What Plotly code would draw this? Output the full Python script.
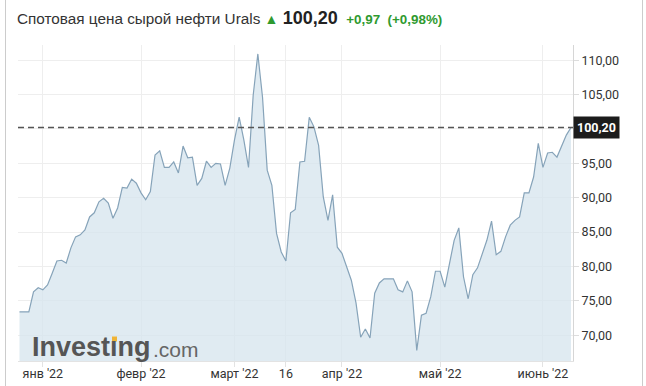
import pandas as pd
import plotly.graph_objects as go

# ---- data ----
dates = [d.strftime("%Y-%m-%d") for d in pd.bdate_range("2021-12-27", "2022-06-09")]
prices = [
    73.4, 73.4, 73.4, 76.3, 76.9, 76.6, 77.3, 79.0, 80.8, 80.9,
    80.5, 82.7, 84.3, 84.6, 85.3, 87.2, 87.8, 89.4, 89.9, 89.2,
    87.0, 88.5, 91.5, 91.4, 92.7, 92.1, 90.7, 89.7, 90.9, 96.2,
    96.8, 94.4, 94.4, 95.2, 93.6, 97.5, 95.8, 95.9, 91.8, 92.8,
    95.3, 94.4, 95.0,
    94.9, 91.8, 94.3, 98.4, 101.7, 98.4, 94.4, 104.9, 110.9, 104.6,
    94.0, 91.8, 84.8, 82.1, 80.8, 87.8, 88.3, 95.2, 95.3, 101.7,
    100.3, 97.6, 90.1, 86.7, 90.4, 82.8, 81.9, 79.9, 78.0, 74.7,
    69.7, 70.9, 69.6, 76.1, 77.6, 78.2, 78.2, 78.2, 76.6,
    76.3, 77.9, 76.3, 67.8, 72.9, 73.2, 75.6, 79.3, 79.3, 77.0,
    80.5, 83.8, 85.6, 78.5, 75.3, 78.8, 79.8, 81.9, 83.8, 86.6,
    81.7, 82.2, 84.3, 86.0, 86.7, 87.2, 90.7, 90.7, 93.0, 97.9,
    94.4, 96.5, 96.6, 95.9, 97.6, 99.1, 100.2,
]
tick_dates = ["2022-01-03", "2022-02-01", "2022-03-01", "2022-03-16",
              "2022-04-01", "2022-05-02", "2022-06-01"]
tick_labels = ["янв '22", "февр '22", "март '22", "16", "апр '22", "май '22", "июнь '22"]
y_ticks = [70, 75, 80, 85, 90, 95, 100, 105, 110]
last_price = 100.20
change = 0.97
change_pct = 0.98

def ru(v):
    return f"{v:.2f}".replace(".", ",")

# the 100,00 label is hidden behind the current-price marker in the reference
y_ticktext = ["" if abs(v - last_price) < 1 else ru(v) for v in y_ticks]

W, H = 646, 386
ML, MR, MT, MB = 18, 73, 45, 25
PW, PH = W - ML - MR, H - MT - MB

def px_x(p):
    return (p - ML) / PW

def px_y(p):
    return (H - MB - p) / PH

GREEN = "#2f9a2f"

fig = go.Figure()
fig.add_trace(go.Scatter(
    x=dates, y=prices, mode="lines",
    line=dict(color="#86a3b9", width=1.2),
    fill="tozeroy", fillcolor="rgba(214,228,238,0.75)",
    hoverinfo="skip", showlegend=False,
))

shapes = [
    dict(type="line", xref="paper", yref="y", x0=0, x1=1, y0=last_price, y1=last_price,
         line=dict(color="#555555", width=1.3, dash="6px,4px"), layer="above"),
    dict(type="line", xref="paper", yref="paper", x0=px_x(5.5), x1=px_x(5.5),
         y0=px_y(0), y1=px_y(H), line=dict(color="#cccccc", width=1)),
    dict(type="line", xref="paper", yref="paper", x0=px_x(642.5), x1=px_x(642.5),
         y0=px_y(0), y1=px_y(H), line=dict(color="#cccccc", width=1)),
    dict(type="rect", xref="paper", yref="paper", x0=px_x(112), x1=px_x(117),
         y0=px_y(341.5), y1=px_y(336.5), fillcolor="#f0b437", line=dict(width=0), layer="above"),
]

title_html = (
    "Спотовая цена сырой нефти Urals "
    f"<span style='color:{GREEN};font-size:14px'>▲</span> "
    f"<b style='font-size:18px;color:#222'>{ru(last_price)}</b>  "
    f"<b style='font-size:13.4px;color:{GREEN}'>+{ru(change)}  (+{ru(change_pct)}%)</b>"
)

annotations = [
    dict(text=title_html, xref="paper", yref="paper", x=px_x(15), y=px_y(18),
         xanchor="left", yanchor="middle", showarrow=False,
         font=dict(family="Liberation Sans, Arial", size=15.3, color="#333333")),
    dict(text=f"<b>{ru(last_price)}</b>", xref="paper", yref="y", x=1, y=last_price,
         xanchor="left", yanchor="middle", showarrow=False, bgcolor="#1c1c1c",
         borderpad=3, font=dict(family="Roboto", size=12.5, color="white")),
    dict(text="<b>Investıng</b>", xref="paper", yref="paper", x=px_x(30), y=px_y(347),
         xanchor="left", yanchor="middle", showarrow=False,
         font=dict(family="Liberation Sans, Arial", size=27, color="#555555")),
    dict(text=".com", xref="paper", yref="paper", x=px_x(151), y=px_y(349),
         xanchor="left", yanchor="middle", showarrow=False,
         font=dict(family="Liberation Sans, Arial", size=21, color="#666666")),
]

fig.update_layout(
    width=W, height=H,
    margin=dict(l=ML, r=MR, t=MT, b=MB, autoexpand=False),
    paper_bgcolor="white", plot_bgcolor="white",
    separators=", ",
    font=dict(family="Roboto", size=12.5, color="#333333"),
    shapes=shapes, annotations=annotations,
    xaxis=dict(
        type="category", range=[-0.32, len(dates) - 1 + 0.43],
        tickmode="array", tickvals=tick_dates, ticktext=tick_labels,
        showgrid=True, gridcolor="#eeeeee", gridwidth=1,
        ticks="outside", ticklen=5, tickcolor="#e3e3e3",
        ticklabelstandoff=-4, automargin=False,
        showline=True, linecolor="#e3e3e3", zeroline=False,
        tickfont=dict(family="Roboto", size=12.5, color="#333333"),
        fixedrange=True,
    ),
    yaxis=dict(
        side="right", range=[66.25, 112.2], automargin=False,
        tickmode="array", tickvals=y_ticks, ticktext=y_ticktext,
        showgrid=True, gridcolor="#eeeeee", gridwidth=1,
        ticks="outside", ticklen=5, tickcolor="#dddddd",
        showline=True, linecolor="#d6d6d6", zeroline=False,
        tickfont=dict(family="Roboto", size=12.5, color="#333333"),
        fixedrange=True,
    ),
)

fig.write_html("out.html", config={"displayModeBar": False})
